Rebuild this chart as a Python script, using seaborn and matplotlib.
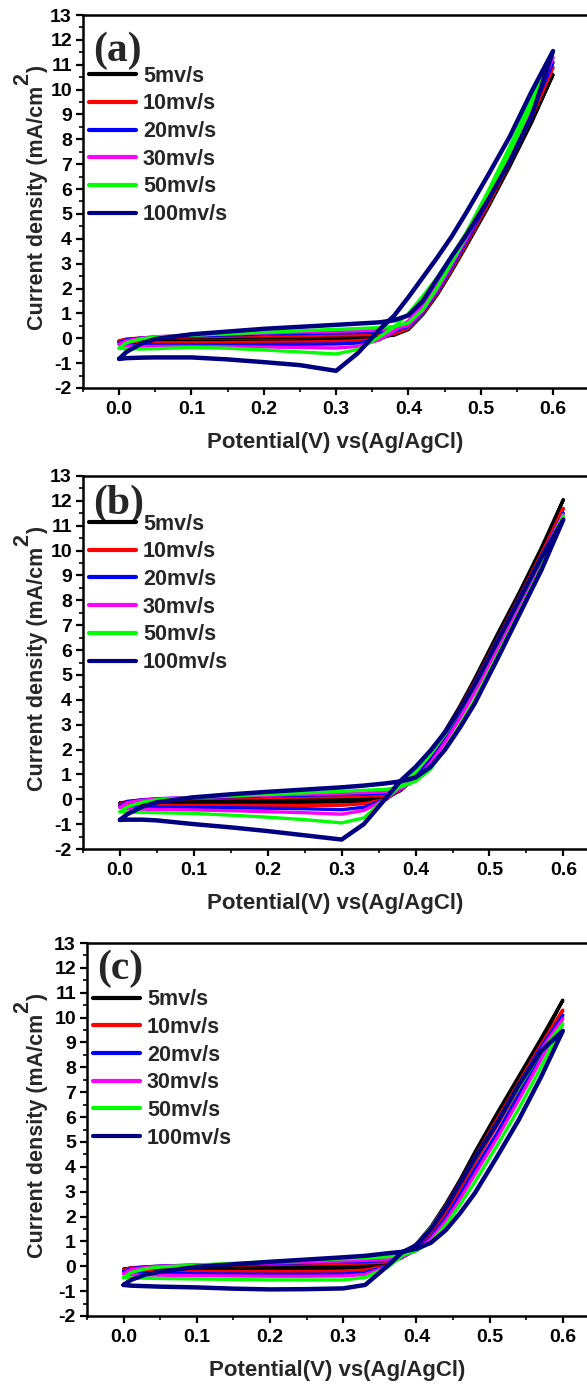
import pandas as pd
import matplotlib.pyplot as plt
import matplotlib.transforms as mtransforms
from matplotlib.ticker import MultipleLocator, FormatStrFormatter
import seaborn as sns

sns.set_theme(style="ticks")
plt.rcParams['font.family'] = ['Liberation Sans', 'DejaVu Sans']
plt.rcParams['font.weight'] = 'bold'
plt.rcParams['axes.labelweight'] = 'bold'
plt.rcParams['axes.unicode_minus'] = False

# potential grid (V vs Ag/AgCl), used for both scan directions
E = [0.00, 0.01, 0.03, 0.05, 0.10, 0.15, 0.20, 0.25, 0.30, 0.33, 0.36,
     0.38, 0.40, 0.42, 0.44, 0.46, 0.48, 0.51, 0.54, 0.57, 0.60]

RATES = ['5mv/s', '10mv/s', '20mv/s', '30mv/s', '50mv/s', '100mv/s']
COLORS = ['#000000', '#ff0000', '#0000ff', '#ff00ff', '#00ff00', '#000080']

# current density (mA/cm2), forward (anodic) scan, one row per scan rate
A_FWD = [
    [-0.12, -0.07, -0.03, -0.01, 0.01, 0.02, 0.03, 0.04, 0.05, 0.06, 0.08, 0.12, 0.35, 0.95, 1.75, 2.70, 3.70, 5.25, 6.90, 8.65, 10.60],
    [-0.10, -0.03, 0.01, 0.03, 0.06, 0.08, 0.10, 0.11, 0.13, 0.14, 0.16, 0.18, 0.40, 1.00, 1.82, 2.78, 3.80, 5.38, 7.05, 8.85, 10.90],
    [-0.18, -0.06, 0.01, 0.05, 0.10, 0.13, 0.16, 0.19, 0.21, 0.23, 0.25, 0.30, 0.47, 1.05, 1.88, 2.86, 3.90, 5.50, 7.20, 9.05, 11.10],
    [-0.25, -0.10, 0.00, 0.06, 0.13, 0.17, 0.21, 0.25, 0.28, 0.30, 0.33, 0.37, 0.52, 1.10, 1.95, 2.95, 4.00, 5.62, 7.35, 9.20, 11.30],
    [-0.40, -0.18, -0.03, 0.05, 0.12, 0.18, 0.24, 0.30, 0.36, 0.39, 0.43, 0.47, 0.62, 1.15, 2.05, 3.05, 4.10, 5.70, 7.45, 9.35, 11.50],
    [-0.83, -0.55, -0.22, -0.03, 0.16, 0.27, 0.38, 0.46, 0.54, 0.59, 0.64, 0.72, 0.92, 1.50, 2.40, 3.30, 4.15, 5.55, 7.10, 8.90, 11.55],
]
# reverse (cathodic) scan, same potentials
A_REV = [
    [-0.12, -0.14, -0.14, -0.14, -0.13, -0.12, -0.11, -0.10, -0.08, -0.06, -0.02, 0.18, 0.45, 1.05, 1.85, 2.80, 3.80, 5.35, 7.00, 8.72, 10.60],
    [-0.10, -0.17, -0.18, -0.18, -0.18, -0.17, -0.16, -0.15, -0.13, -0.10, -0.03, 0.22, 0.50, 1.10, 1.92, 2.88, 3.90, 5.50, 7.20, 9.00, 10.90],
    [-0.18, -0.24, -0.26, -0.26, -0.26, -0.26, -0.25, -0.24, -0.23, -0.19, -0.05, 0.26, 0.60, 1.20, 2.00, 2.98, 4.02, 5.68, 7.42, 9.22, 11.10],
    [-0.25, -0.31, -0.33, -0.33, -0.33, -0.34, -0.35, -0.37, -0.39, -0.33, -0.06, 0.30, 0.70, 1.32, 2.12, 3.10, 4.18, 5.85, 7.60, 9.42, 11.30],
    [-0.40, -0.42, -0.43, -0.42, -0.37, -0.40, -0.47, -0.55, -0.63, -0.45, 0.05, 0.45, 1.00, 1.70, 2.45, 3.30, 4.25, 5.90, 7.70, 9.60, 11.50],
    [-0.83, -0.80, -0.78, -0.77, -0.77, -0.85, -0.96, -1.08, -1.31, -0.60, 0.35, 0.90, 1.65, 2.45, 3.25, 4.10, 5.05, 6.55, 8.10, 9.90, 11.55],
]

B_FWD = [
    [-0.15, -0.10, -0.07, -0.05, -0.04, -0.03, -0.02, -0.01, 0.00, 0.02, 0.06, 0.35, 0.90, 1.75, 2.65, 3.65, 4.75, 6.50, 8.20, 10.00, 12.05],
    [-0.20, -0.08, -0.03, 0.00, 0.03, 0.05, 0.07, 0.09, 0.11, 0.13, 0.16, 0.38, 0.88, 1.65, 2.52, 3.50, 4.55, 6.25, 7.95, 9.70, 11.70],
    [-0.25, -0.10, -0.02, 0.02, 0.07, 0.10, 0.13, 0.16, 0.19, 0.21, 0.24, 0.40, 0.82, 1.55, 2.40, 3.35, 4.40, 6.10, 7.80, 9.55, 11.50],
    [-0.33, -0.14, -0.04, 0.01, 0.08, 0.12, 0.16, 0.20, 0.24, 0.27, 0.30, 0.42, 0.78, 1.45, 2.30, 3.25, 4.30, 6.00, 7.70, 9.45, 11.45],
    [-0.50, -0.30, -0.12, -0.02, 0.07, 0.14, 0.20, 0.26, 0.32, 0.36, 0.40, 0.50, 0.72, 1.20, 2.05, 3.00, 4.00, 5.75, 7.50, 9.30, 11.40],
    [-0.83, -0.60, -0.30, -0.12, 0.08, 0.20, 0.30, 0.39, 0.48, 0.55, 0.64, 0.72, 0.88, 1.30, 2.00, 2.88, 3.85, 5.60, 7.40, 9.20, 11.25],
]
B_REV = [
    [-0.15, -0.16, -0.16, -0.16, -0.15, -0.14, -0.13, -0.12, -0.11, -0.08, 0.02, 0.40, 0.98, 1.85, 2.75, 3.75, 4.85, 6.60, 8.30, 10.10, 12.05],
    [-0.20, -0.24, -0.25, -0.25, -0.25, -0.25, -0.25, -0.25, -0.24, -0.18, 0.00, 0.42, 0.98, 1.80, 2.68, 3.65, 4.70, 6.40, 8.10, 9.85, 11.70],
    [-0.25, -0.30, -0.31, -0.32, -0.33, -0.34, -0.36, -0.38, -0.42, -0.32, 0.00, 0.45, 1.00, 1.80, 2.65, 3.60, 4.65, 6.35, 8.05, 9.75, 11.50],
    [-0.33, -0.38, -0.40, -0.41, -0.43, -0.46, -0.50, -0.54, -0.60, -0.45, 0.00, 0.48, 1.05, 1.80, 2.65, 3.60, 4.60, 6.30, 8.00, 9.70, 11.45],
    [-0.50, -0.52, -0.53, -0.54, -0.57, -0.64, -0.72, -0.82, -0.95, -0.75, 0.05, 0.55, 1.10, 1.80, 2.62, 3.55, 4.55, 6.25, 7.95, 9.65, 11.40],
    [-0.83, -0.82, -0.82, -0.85, -1.00, -1.13, -1.28, -1.45, -1.62, -1.00, 0.05, 0.75, 1.30, 1.95, 2.70, 3.60, 4.60, 6.30, 8.00, 9.70, 11.25],
]

C_FWD = [
    [-0.12, -0.07, -0.04, -0.03, -0.02, -0.01, 0.00, 0.01, 0.02, 0.04, 0.12, 0.35, 0.80, 1.45, 2.35, 3.35, 4.45, 6.00, 7.50, 9.00, 10.70],
    [-0.15, -0.06, -0.02, 0.00, 0.03, 0.05, 0.07, 0.09, 0.11, 0.13, 0.17, 0.35, 0.70, 1.30, 2.12, 3.10, 4.15, 5.65, 7.15, 8.70, 10.30],
    [-0.22, -0.09, -0.03, 0.01, 0.05, 0.08, 0.11, 0.14, 0.17, 0.19, 0.23, 0.36, 0.66, 1.18, 1.95, 2.90, 3.90, 5.35, 6.90, 8.45, 10.10],
    [-0.30, -0.13, -0.05, 0.00, 0.05, 0.09, 0.13, 0.17, 0.21, 0.24, 0.28, 0.38, 0.63, 1.10, 1.82, 2.72, 3.70, 5.15, 6.70, 8.30, 9.95],
    [-0.45, -0.25, -0.10, -0.03, 0.05, 0.12, 0.18, 0.24, 0.30, 0.33, 0.38, 0.45, 0.62, 1.00, 1.65, 2.50, 3.40, 4.85, 6.35, 8.00, 9.75],
    [-0.75, -0.55, -0.33, -0.22, -0.02, 0.08, 0.18, 0.27, 0.36, 0.42, 0.52, 0.58, 0.70, 0.95, 1.45, 2.15, 2.95, 4.40, 5.90, 7.60, 9.47],
]
C_REV = [
    [-0.12, -0.13, -0.13, -0.13, -0.12, -0.11, -0.10, -0.09, -0.08, -0.05, 0.05, 0.40, 0.90, 1.60, 2.50, 3.50, 4.60, 6.15, 7.65, 9.15, 10.70],
    [-0.15, -0.20, -0.21, -0.21, -0.21, -0.21, -0.21, -0.21, -0.20, -0.15, 0.02, 0.42, 0.88, 1.55, 2.42, 3.40, 4.40, 5.90, 7.40, 8.90, 10.30],
    [-0.22, -0.27, -0.28, -0.29, -0.30, -0.31, -0.32, -0.32, -0.31, -0.25, 0.00, 0.42, 0.88, 1.55, 2.38, 3.35, 4.35, 5.80, 7.30, 8.80, 10.10],
    [-0.30, -0.34, -0.35, -0.36, -0.38, -0.39, -0.40, -0.40, -0.39, -0.33, -0.02, 0.42, 0.88, 1.55, 2.38, 3.33, 4.30, 5.75, 7.25, 8.70, 9.95],
    [-0.45, -0.47, -0.48, -0.49, -0.51, -0.53, -0.55, -0.55, -0.55, -0.45, -0.05, 0.40, 0.88, 1.55, 2.38, 3.33, 4.30, 5.75, 7.20, 8.60, 9.75],
    [-0.75, -0.78, -0.80, -0.82, -0.85, -0.90, -0.93, -0.92, -0.89, -0.75, 0.00, 0.55, 0.85, 1.50, 2.35, 3.35, 4.35, 5.75, 7.30, 8.65, 9.47],
]

PANELS = [('(a)', A_FWD, A_REV), ('(b)', B_FWD, B_REV), ('(c)', C_FWD, C_REV)]

# layout in output pixels (figure is 587 x 1393)
W, H = 587, 1393
AX_LEFT = [83, 83, 87]
AX_TOP = [15, 476, 943]
AX_H = 373
XMAX = [0.647, 0.632, 0.633]
LEG_Y = [0.864, 0.899, 0.876]
LAB_Y = [0.905, 0.925, 0.930]

fig = plt.figure(figsize=(W / 100, H / 100), dpi=100)
renderer = fig.canvas.get_renderer()
ident = mtransforms.IdentityTransform()

for k, (tag, fwd_set, rev_set) in enumerate(PANELS):
    left = AX_LEFT[k]
    ax = fig.add_axes([left / W, (H - AX_TOP[k] - AX_H) / H, (W - left) / W, AX_H / H])

    rows = []
    for rate, fwd, rev in zip(RATES, fwd_set, rev_set):
        xs = E + E[::-1]
        ys = fwd + rev[::-1]
        for i, (x, y) in enumerate(zip(xs, ys)):
            rows.append((rate, i, x, y))
    df = pd.DataFrame(rows, columns=['rate', 'step', 'E', 'J'])

    sns.lineplot(data=df, x='E', y='J', hue='rate', hue_order=RATES,
                 palette=COLORS, sort=False, estimator=None, lw=2.4, ax=ax)
    ax.lines[len(RATES) - 1].set_linewidth(3.2)

    ax.set_xlim(-0.05, XMAX[k])
    ax.set_ylim(-2, 13)
    ax.xaxis.set_major_locator(MultipleLocator(0.1))
    ax.xaxis.set_minor_locator(MultipleLocator(0.05))
    ax.xaxis.set_major_formatter(FormatStrFormatter('%.1f'))
    ax.yaxis.set_major_locator(MultipleLocator(1))
    ax.yaxis.set_minor_locator(MultipleLocator(0.5))
    ax.yaxis.set_major_formatter(FormatStrFormatter('%d'))
    ax.tick_params(which='major', direction='out', length=5, width=1.6,
                   labelsize=14, pad=4.5, colors='black')
    ax.tick_params(which='minor', direction='out', length=3, width=1.4)
    ax.tick_params(axis='y', which='major', pad=3)
    ax.spines['right'].set_visible(False)
    for s in ['left', 'bottom', 'top']:
        ax.spines[s].set_linewidth(1.8)
        ax.spines[s].set_color('black')
    for lab in ax.get_xticklabels() + ax.get_yticklabels():
        lab.set_fontweight('bold')

    ax.set_xlabel('Potential(V) vs(Ag/AgCl)', fontsize=16, fontweight='bold', labelpad=10)
    ax.set_ylabel('')

    sns.move_legend(ax, 'upper left', bbox_to_anchor=(0.012, LEG_Y[k]),
                    frameon=False, title=None, fontsize=15.5, handlelength=2.2,
                    handletextpad=0.3, labelspacing=0.31, borderpad=0,
                    borderaxespad=0)
    leg = ax.get_legend()
    for h in leg.get_lines():
        h.set_linewidth(3)
    for t in leg.get_texts():
        t.set_fontweight('bold')

    ax.text(0.02, LAB_Y[k], tag, transform=ax.transAxes, ha='left', va='center',
            fontsize=30, fontweight='bold', family=['Liberation Serif', 'DejaVu Serif'])

    # y label with a full-size raised "2", as in the original figure
    x0 = 43
    y0 = H - (AX_TOP[k] + AX_H - 58)
    kw = dict(rotation=90, rotation_mode='anchor', ha='left', va='baseline',
              fontsize=15.5, fontweight='bold', transform=ident)
    t1 = fig.text(x0, y0, 'Current density (mA/cm', **kw)
    bb1 = t1.get_window_extent(renderer)
    t2 = fig.text(x0 - 15, bb1.y1 + 1, '2', **kw)
    bb2 = t2.get_window_extent(renderer)
    fig.text(x0, bb2.y1, ')', **kw)

fig.savefig('out.png', dpi=100)
